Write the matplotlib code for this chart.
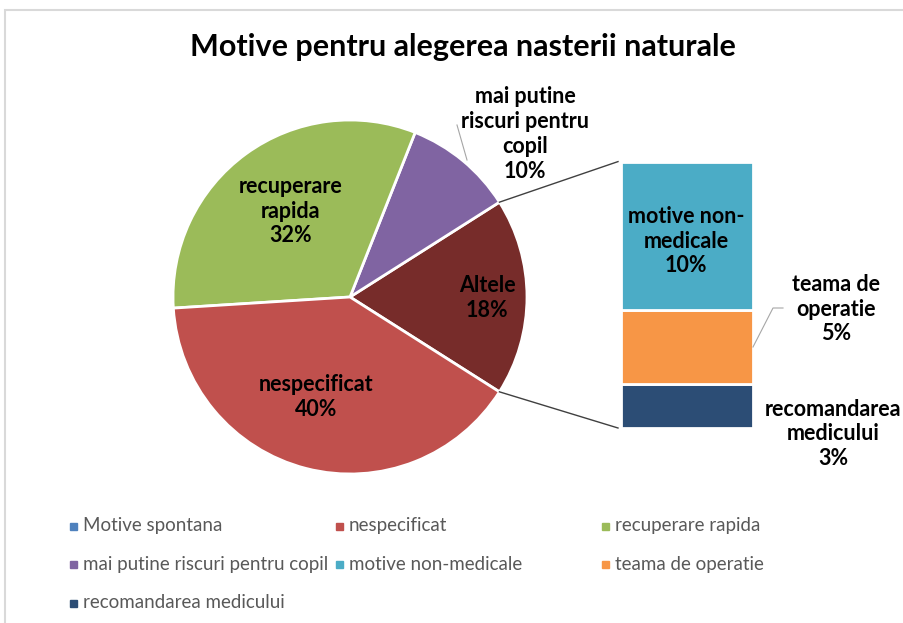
import math
import matplotlib.pyplot as plt
from matplotlib.patches import Rectangle

# date
pie_labels = ["Altele", "mai putine riscuri pentru copil", "recuperare rapida", "nespecificat"]
pie_values = [18, 10, 32, 40]
pie_colors = ["#772C2A", "#8064A2", "#9BBB59", "#C0504D"]
pie_texts = ["Altele", "mai putine\nriscuri pentru\ncopil", "recuperare\nrapida", "nespecificat"]

bar_labels = ["recomandarea medicului", "teama de operatie", "motive non-medicale"]
bar_values = [3, 5, 10]
bar_colors = ["#2C4D75", "#F79646", "#4BACC6"]
bar_texts = ["recomandarea\nmedicului", "teama de\noperatie", "motive non-\nmedicale"]

legend_labels = ["Motive spontana", "nespecificat", "recuperare rapida",
                 "mai putine riscuri pentru copil", "motive non-medicale",
                 "teama de operatie", "recomandarea medicului"]
legend_colors = ["#4F81BD", "#C0504D", "#9BBB59", "#8064A2", "#4BACC6", "#F79646", "#2C4D75"]

W, H = 904, 623
FONT = "Lato"

def py(y):
    # pixel y (de sus) -> coordonata axei
    return H - y

fig = plt.figure(figsize=(W / 100, H / 100), dpi=100)
ax = fig.add_axes([0, 0, 1, 1])

# chenar
ax.add_patch(Rectangle((5, py(H + 20)), W + 20, H + 10, fill=False, ec="#D9D9D9", lw=1.5))

ax.text(463, py(47), "Motive pentru alegerea nasterii naturale", ha="center", va="center",
        fontsize=22, fontweight="bold", family=FONT)

# pie
cx, cy, r = 350, py(297), 177
total = sum(pie_values)
half = 360 * pie_values[0] / total / 2
wedges, _ = ax.pie(pie_values, colors=pie_colors, startangle=-half, counterclock=True,
                   center=(cx, cy), radius=r, frame=True,
                   wedgeprops=dict(edgecolor="white", linewidth=2))
ax.set_xlim(0, W)
ax.set_ylim(0, H)
ax.set_aspect("equal")
ax.axis("off")

pie_pos = [(487, 298), (525, 134), (291, 211), (316, 397)]
for txt, v, (x, y) in zip(pie_texts, pie_values, pie_pos):
    ax.text(x, py(y), f"{txt}\n{round(100 * v / total)}%", ha="center", va="center",
            fontsize=15.5, fontweight="bold", family=FONT, linespacing=1.22)

# leader mai putine
ax.plot([457, 467], [py(125), py(160)], color="#A6A6A6", lw=0.8)

# bar
bx, bw = 687, 132
scale = 14.8
bottom = py(428)
b = bottom
for v, c in zip(bar_values, bar_colors):
    ax.bar(bx, v * scale, width=bw, bottom=b, color=c, edgecolor="white", linewidth=2)
    b += v * scale
top = b

# linii de legatura
ang = math.radians(half)
ax.plot([cx + r * math.cos(ang), bx - bw / 2 - 3], [cy + r * math.sin(ang), top], color="#404040", lw=1)
ax.plot([cx + r * math.cos(-ang), bx - bw / 2 - 3], [cy + r * math.sin(-ang), bottom], color="#404040", lw=1)

bar_pos = [(833, 434), (836, 309), (686, 241)]
for txt, v, (x, y) in zip(bar_texts, bar_values, bar_pos):
    ax.text(x, py(y), f"{txt}\n{round(100 * v / total)}%", ha="center", va="center",
            fontsize=15.5, fontweight="bold", family=FONT, linespacing=1.22)

ax.plot([753, 773, 783], [py(347), py(308), py(308)], color="#A6A6A6", lw=0.8)

# legenda
for i, (lab, c) in enumerate(zip(legend_labels, legend_colors)):
    row, col = divmod(i, 3)
    x = 74 + col * 266
    y = py(526 + row * 38.5)
    ax.add_patch(Rectangle((x - 3.5, y - 3.5), 7, 7, color=c))
    ax.text(x + 9, y, lab, ha="left", va="center", fontsize=13.5, color="#595959", family=FONT)

fig.savefig("out.png", dpi=100)
